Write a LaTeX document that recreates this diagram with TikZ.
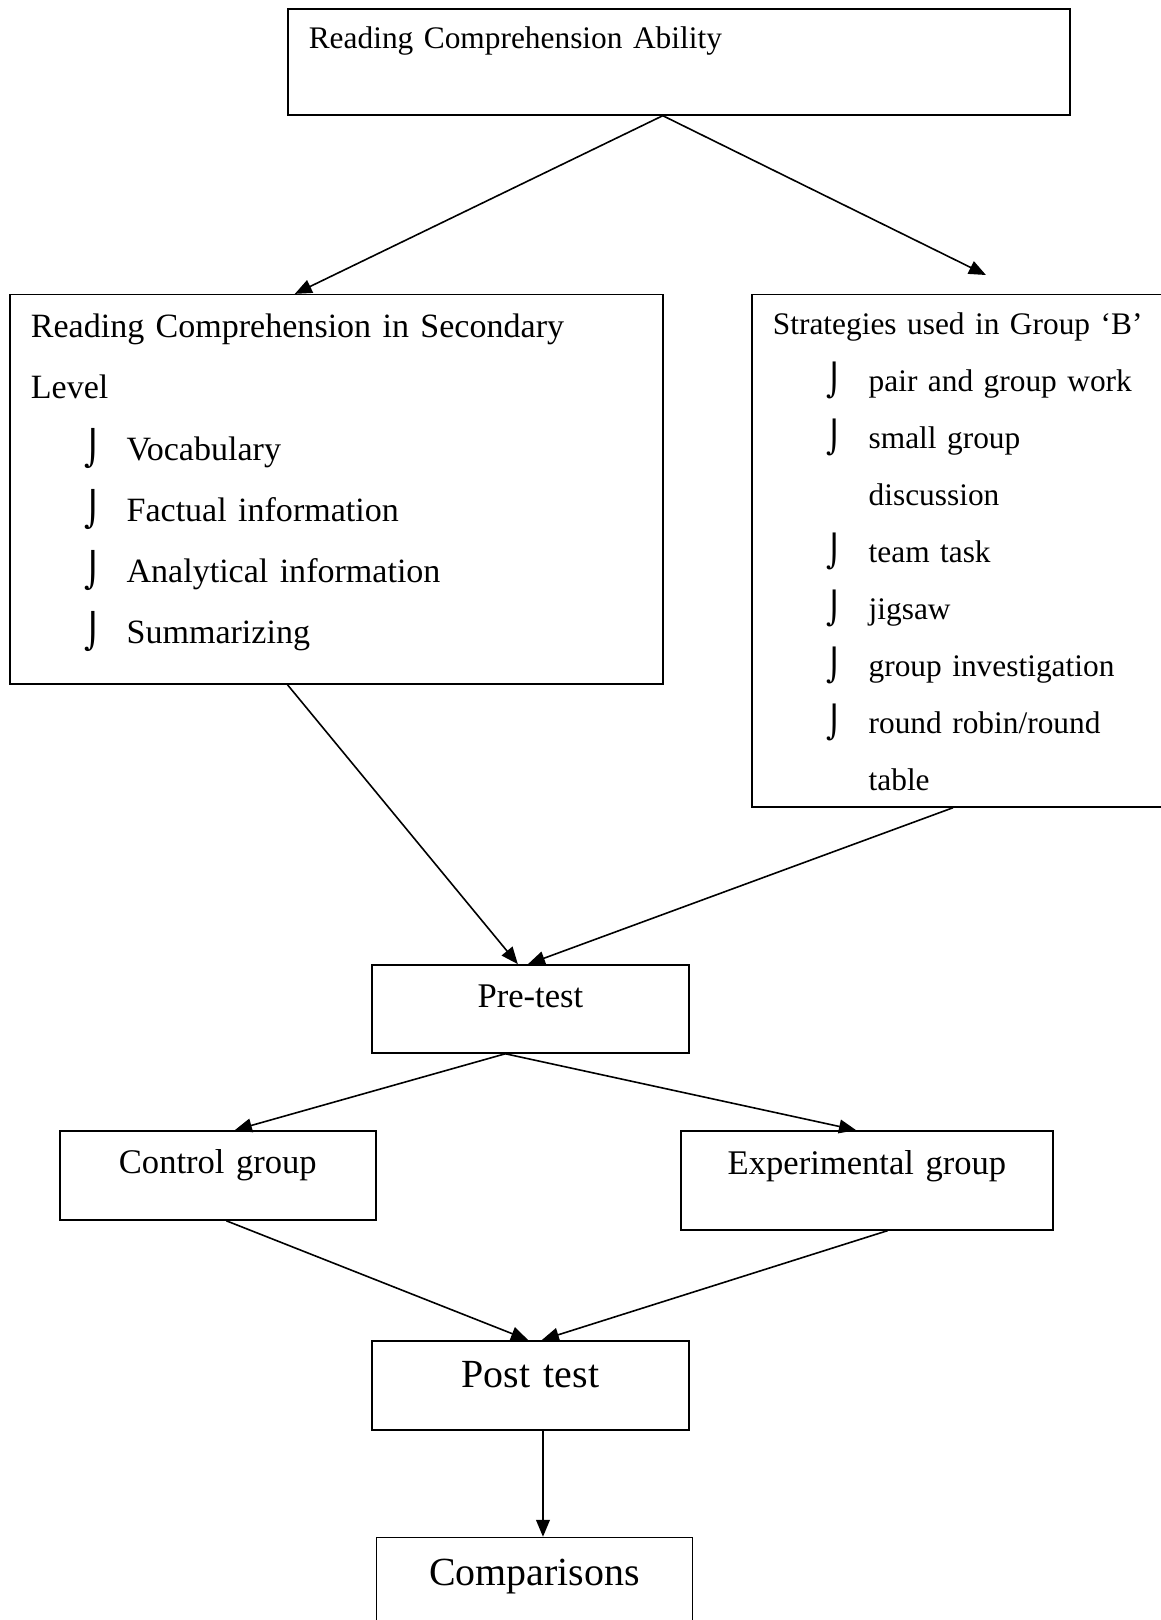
\documentclass[tikz,border=0pt]{standalone}
\usepackage{fontspec}
\setmainfont{Liberation Serif}
\newfontfamily\symfont{DejaVu Sans}
\usepackage{tikz}
\usetikzlibrary{arrows.meta}
\newcommand{\hookmark}{{\symfont\char"2321}}
\newcommand{\hookitem}[1]{\hspace*{20pt}\makebox[16pt][l]{\hookmark}#1}
\tikzset{
  listbox/.style={
    rectangle,
    draw=black,
    line width=0.6pt,
    anchor=north west,
    align=left,
    inner xsep=7.9pt,
    inner ysep=0pt
  },
  stagebox/.style={
    rectangle,
    draw=black,
    line width=0.6pt,
    anchor=north west,
    align=center,
    inner sep=0pt
  },
  flowarrow/.style={
    -{Triangle[length=6.4pt,width=5.2pt]},
    line width=0.6pt,
    draw=black
  }
}

\begin{document}
\begin{tikzpicture}[x=1pt,y=-1pt]
\useasboundingbox (0,0) rectangle (436.2,609.1);
\node[listbox, font=\fontsize{11.8}{14}\selectfont, text width=278.2pt, text height=15pt, text depth=24.9pt] (ability) at (107.9,3.0) {Reading Comprehension Ability};
\node[listbox, font=\fontsize{12.8}{23}\selectfont, text width=229.7pt, text height=16.2pt, text depth=130.1pt] (secondary) at (3.4,110.5)
  {Reading Comprehension in Secondary\\
   Level\\
   \hookitem{Vocabulary}\\
   \hookitem{Factual information}\\
   \hookitem{Analytical information}\\
   \hookitem{Summarizing}};
\node[listbox, font=\fontsize{11.8}{21.4}\selectfont, text width=143.6pt, text height=15.1pt, text depth=177.5pt] (strategies) at (282.4,110.5)
  {Strategies used in Group `B'\\
   \hookitem{pair and group work}\\
   \hookitem{small group}\\
   \hspace*{36pt}discussion\\
   \hookitem{team task}\\
   \hookitem{jigsaw}\\
   \hookitem{group investigation}\\
   \hookitem{round robin/round}\\
   \hspace*{36pt}table};
\node[stagebox, font=\fontsize{13}{15}\selectfont, text width=119.2pt, text height=16.1pt, text depth=17.0pt] (pretest) at (139.5,362.5) {Pre-test};
\node[stagebox, font=\fontsize{13}{15}\selectfont, text width=118.8pt, text height=16.2pt, text depth=17.3pt] (control) at (22.2,424.9) {Control group};
\node[stagebox, font=\fontsize{13}{15}\selectfont, text width=139.9pt, text height=16.5pt, text depth=20.7pt] (experimental) at (255.7,424.9) {Experimental group};
\node[stagebox, font=\fontsize{15}{17}\selectfont, text width=119.3pt, text height=17.6pt, text depth=15.9pt] (posttest) at (139.5,503.8) {Post test};
\node[stagebox, font=\fontsize{15}{17}\selectfont, text width=118.8pt, text height=18.2pt, text depth=21.8pt] (comparisons) at (141.3,577.8) {Comparisons};

\coordinate (apex) at ([xshift=-6pt]ability.south);
\coordinate (stratin) at ([xshift=8.3pt,yshift=7.1pt]strategies.north);
\coordinate (split) at ([xshift=-9.4pt]pretest.south);

\draw[flowarrow] (apex) -- ([xshift=-15.6pt]secondary.north);
\draw[flowarrow] (apex) -- (stratin);
\draw[flowarrow] ([xshift=-18.4pt]secondary.south) -- ([xshift=-4.7pt]pretest.north);
\draw[flowarrow] ([xshift=-4.1pt]strategies.south) -- ([xshift=-0.9pt]pretest.north);
\draw[flowarrow] (split) -- ([xshift=6.4pt]control.north);
\draw[flowarrow] (split) -- ([xshift=-4.1pt]experimental.north);
\draw[flowarrow] ([xshift=3.2pt]control.south) -- ([xshift=-0.9pt]posttest.north);
\draw[flowarrow] ([xshift=7.8pt]experimental.south) -- ([xshift=4.3pt]posttest.north);
\draw[flowarrow] ([xshift=4.7pt]posttest.south) -- ([xshift=4.7pt]posttest.south |- comparisons.north);
\end{tikzpicture}
\end{document}
